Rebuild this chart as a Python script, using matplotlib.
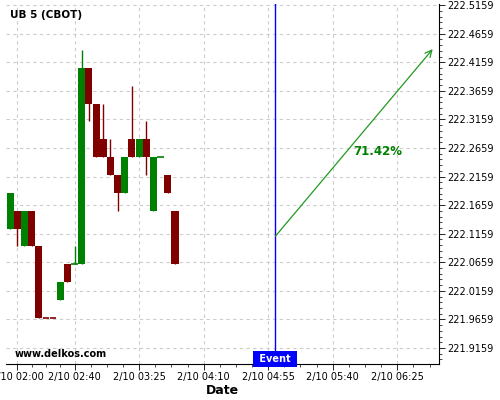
import numpy as np
import matplotlib
matplotlib.use("Agg")
import matplotlib.pyplot as plt
from matplotlib.ticker import FixedLocator, FuncFormatter

# 5-minute candles, times in minutes after midnight on 2/10
candle_start = 115  # 01:55
candle_step = 5
opens = [222.125, 222.15625, 222.09375, 222.15625, 222.09375, 221.96875, 221.96875, 222.0,
         222.0625, 222.0625, 222.0625, 222.40625, 222.34375, 222.28125, 222.25, 222.21875,
         222.1875, 222.28125, 222.25, 222.28125, 222.15625, 222.25, 222.21875, 222.15625]
highs = [222.1875, 222.15625, 222.15625, 222.15625, 222.09375, 221.96875, 221.96875, 222.03125,
         222.0625, 222.09375, 222.4375, 222.40625, 222.34375, 222.34375, 222.28125, 222.21875,
         222.25, 222.375, 222.28125, 222.3125, 222.25, 222.25, 222.21875, 222.15625]
lows = [222.125, 222.09375, 222.09375, 222.09375, 221.96875, 221.96875, 221.96875, 222.0,
        222.03125, 222.0625, 222.0625, 222.3125, 222.25, 222.25, 222.21875, 222.15625,
        222.1875, 222.25, 222.25, 222.21875, 222.15625, 222.25, 222.1875, 222.0625]
closes = [222.1875, 222.125, 222.15625, 222.09375, 221.96875, 221.96875, 221.96875, 222.03125,
          222.03125, 222.0625, 222.40625, 222.34375, 222.25, 222.25, 222.21875, 222.1875,
          222.25, 222.25, 222.28125, 222.25, 222.25, 222.25, 222.1875, 222.0625]
up = [True, False, True, False, False, False, False, True,
      False, True, True, False, False, False, False, False,
      True, False, True, False, True, True, False, False]

event_time = 300  # 05:00
arrow_start = (300, 222.1115)
arrow_end = (409.7, 222.439)
arrow_label = "71.42%"

x_major = [120, 160, 205, 250, 295, 340, 385]
y_major = [221.9159, 221.9659, 222.0159, 222.0659, 222.1159, 222.1659, 222.2159,
           222.2659, 222.3159, 222.3659, 222.4159, 222.4659, 222.5159]

GREEN = "#008000"
RED = "#800000"

fig = plt.figure(figsize=(5, 4), dpi=100)
ax = fig.add_axes([0.011, 0.09, 0.867, 0.90])

times = candle_start + candle_step * np.arange(len(opens))
for t, o, h, l, c, u in zip(times, opens, highs, lows, closes, up):
    col = GREEN if u else RED
    ax.vlines(t, l, h, color=col, linewidth=1, zorder=3)
    if o == c:
        ax.hlines(o, t - 2.3, t + 2.3, color=col, linewidth=1.2, zorder=3)
    else:
        ax.bar(t, abs(c - o), bottom=min(o, c), width=4.9, color=col, linewidth=0, zorder=4)

# event marker
ax.axvline(event_time, color="#0000ff", linewidth=1.0, zorder=5)
ax.text(event_time, 221.8883, " Event ", color="white", fontsize=7, fontweight="bold",
        ha="center", va="bottom", zorder=6,
        bbox=dict(boxstyle="square,pad=0.3", facecolor="#0000ff", edgecolor="none"))

# projection arrow
ax.annotate("", xy=arrow_end, xytext=arrow_start,
            arrowprops=dict(arrowstyle="->", color="#1f9a1f", lw=0.9,
                            shrinkA=0, shrinkB=0, mutation_scale=12), zorder=5)
ax.text(371.5, 222.2607, arrow_label, color=GREEN, fontsize=8.5, fontweight="bold",
        ha="center", va="center")

ax.set_xlim(111.8, 414.1)
ax.set_ylim(221.888, 222.518)

ax.xaxis.set_major_locator(FixedLocator(x_major))
minors = []
for a, b in zip(x_major[:-1], x_major[1:]):
    minors += list(np.linspace(a, b, 5)[1:-1])
minors += list(np.linspace(385, 385 + 45, 5)[1:3])
ax.xaxis.set_minor_locator(FixedLocator(minors))
ax.xaxis.set_major_formatter(FuncFormatter(lambda v, p: "2/10 %02d:%02d" % (int(v) // 60, int(v) % 60)))

ax.yaxis.tick_right()
ax.yaxis.set_major_locator(FixedLocator(y_major))
ax.yaxis.set_minor_locator(FixedLocator(np.arange(221.8959, 222.52, 0.01)))
ax.yaxis.set_major_formatter(FuncFormatter(lambda v, p: "%.4f" % v))

ax.tick_params(axis="both", which="major", labelsize=7, length=4, width=0.6, pad=2)
ax.tick_params(axis="both", which="minor", length=2, width=0.5)

for side in ("left", "top"):
    ax.spines[side].set_visible(False)

ax.grid(True, which="major", color="#cccccc", linestyle=(0, (3, 3)), linewidth=0.8)
ax.set_axisbelow(True)

ax.set_xlabel("Date", fontsize=9, fontweight="bold", labelpad=1)

fig.text(0.02, 0.962, "UB 5 (CBOT)", fontsize=7.5, fontweight="bold", va="center")
fig.text(0.03, 0.115, "www.delkos.com", fontsize=7, fontweight="bold", va="center")

fig.savefig("out.png", dpi=100)
